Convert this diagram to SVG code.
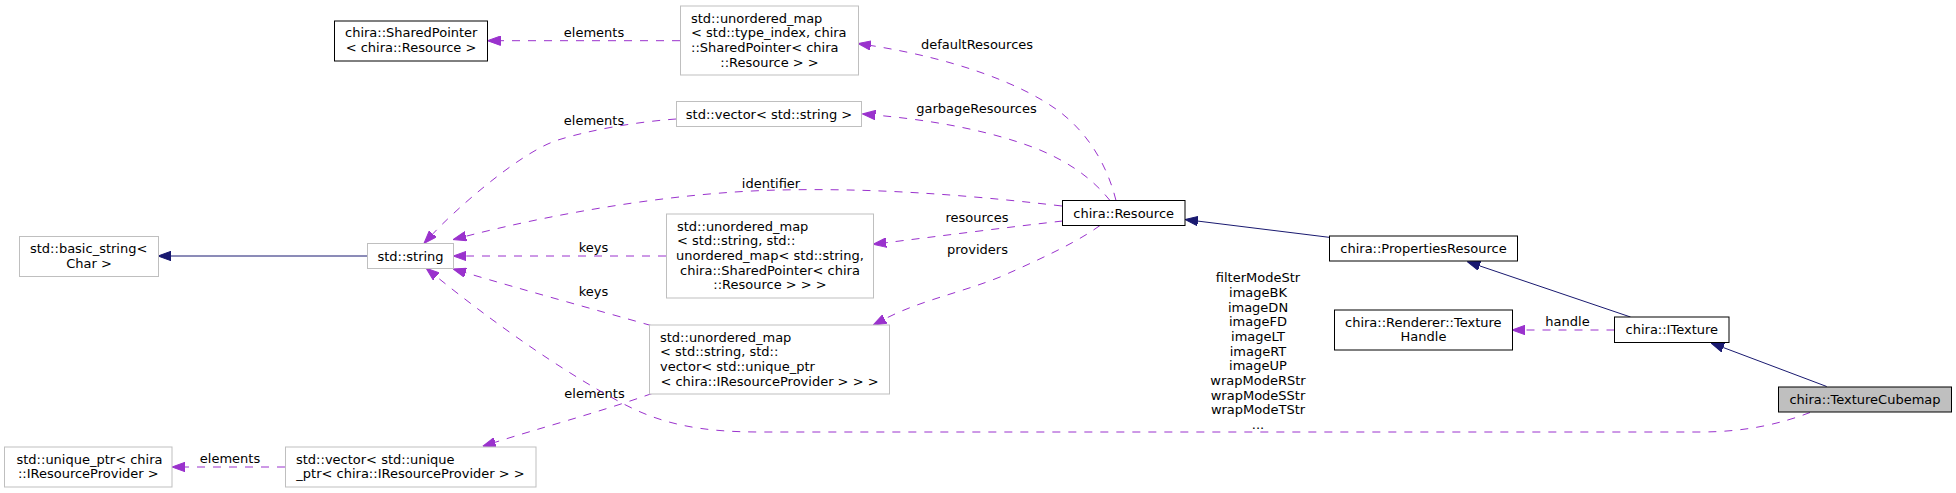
<svg xmlns="http://www.w3.org/2000/svg" width="1956" height="493" viewBox="0 0 1956 493">
<style>
text{font-family:"DejaVu Sans","Liberation Sans",sans-serif;font-size:13px;fill:#000}
.m{text-anchor:middle}
.nb rect{fill:#fff;stroke:#000;stroke-width:1}
.ng rect{fill:#fff;stroke:#bfbfbf;stroke-width:1}
.nc rect{fill:#bfbfbf;stroke:#000;stroke-width:1}
.d{fill:none;stroke:#9a32cd;stroke-width:1;stroke-dasharray:8,8;marker-end:url(#ap)}
.s{fill:none;stroke:#191970;stroke-width:1;marker-end:url(#ab)}
</style>
<defs>
<marker id="ap" markerUnits="userSpaceOnUse" viewBox="0 0 13 10" refX="0" refY="5" markerWidth="13" markerHeight="10" orient="auto"><path d="M0,0.3 L13,5 L0,9.7 z" fill="#9a32cd" stroke="#9a32cd" stroke-width="1"/></marker>
<marker id="ab" markerUnits="userSpaceOnUse" viewBox="0 0 13 10" refX="0" refY="5" markerWidth="13" markerHeight="10" orient="auto"><path d="M0,0.3 L13,5 L0,9.7 z" fill="#191970" stroke="#191970" stroke-width="1"/></marker>
</defs>
<rect x="0" y="0" width="1956" height="493" fill="#fff"/>

<g id="connectors">
<g id="e-shared"><path class="d" d="M680,40.7 L500.5,40.7"/><text class="m" x="594" y="37">elements</text></g>
<g id="e-vecstr"><path class="d" d="M676,119 C 635,122 590,130 558,140 C 520,152 455,210 432.8,233.9"/><text class="m" x="594" y="125">elements</text></g>
<g id="e-garbage"><path class="d" d="M1110,200.5 C 1095,182 1075,165 1040,150 C 990,130 930,120 875.4,115.1"/><text class="m" x="976.5" y="113">garbageResources</text></g>
<g id="e-default"><path class="d" d="M1116,200.5 C 1108,168 1090,135 1060,112 C 1020,82 950,58 870.8,45.5"/><text class="m" x="977" y="48.5">defaultResources</text></g>
<g id="e-identifier"><path class="d" d="M1062,206 C 960,194 870,188 780,190 C 680,192 560,212 465.75,236.3"/><text class="m" x="771" y="188">identifier</text></g>
<g id="e-resources"><path class="d" d="M1062.5,221 C 1010,227 940,236 886.1,242.7"/><text class="m" x="977" y="221.5">resources</text></g>
<g id="e-keys1"><path class="d" d="M666,256 L466.3,256"/><text class="m" x="593.5" y="252">keys</text></g>
<g id="e-keys2"><path class="d" d="M651,325.5 C 600,311 520,289 465.5,272.7"/><text class="m" x="593.5" y="296">keys</text></g>
<g id="e-providers"><path class="d" d="M1100,225.5 C 1080,240 1050,255 1000,277 C 960,293 920.2,300.5 884.7,319"/><text class="m" x="977.5" y="254">providers</text></g>
<g id="e-vecuptr"><path class="d" d="M652,393.5 C 600,412 540,428 495.1,442.3"/><text class="m" x="594.5" y="398">elements</text></g>
<g id="e-uptr"><path class="d" d="M285,467 L185,467"/><text class="m" x="230" y="463">elements</text></g>
<g id="e-handle"><path class="d" d="M1614.5,330 L1525,330"/><text class="m" x="1567.5" y="326">handle</text></g>
<g id="e-members"><path class="d" d="M1810,412.5 C 1780,424 1745,432 1700,432 L 760,432 C 700,432 660,424 620,402 C 560,370 490,320 436.2,276.4"/>
<text class="m" x="1258" y="282.3">filterModeStr</text>
<text class="m" x="1258" y="297">imageBK</text>
<text class="m" x="1258" y="311.6">imageDN</text>
<text class="m" x="1258" y="326.3">imageFD</text>
<text class="m" x="1258" y="341">imageLT</text>
<text class="m" x="1258" y="355.6">imageRT</text>
<text class="m" x="1258" y="370.3">imageUP</text>
<text class="m" x="1258" y="385">wrapModeRStr</text>
<text class="m" x="1258" y="399.7">wrapModeSStr</text>
<text class="m" x="1258" y="414.3">wrapModeTStr</text>
<text class="m" x="1258" y="429">...</text>
</g>
<path class="s" d="M367,256 L171,256"/>
<path class="s" d="M1329,237.3 L1197.9,221.1"/>
<path class="s" d="M1630.5,317 L1479.7,265.9"/>
<path class="s" d="M1826.7,386.5 L1723.2,347.5"/>
</g>

<g id="n-shared" class="nb"><rect x="334.5" y="21" width="153" height="40"/><text x="345" y="37">chira::SharedPointer</text><text class="m" x="411" y="51.7">&lt; chira::Resource &gt;</text></g>
<g id="n-umap-type" class="ng"><rect x="680.5" y="6" width="178" height="69"/><text x="691" y="22.5">std::unordered_map</text><text x="691" y="37.2">&lt; std::type_index, chira</text><text x="691" y="51.8">::SharedPointer&lt; chira</text><text class="m" x="769.5" y="66.5">::Resource &gt; &gt;</text></g>
<g id="n-vecstr" class="ng"><rect x="676.5" y="101.5" width="185" height="25"/><text class="m" x="769" y="118.5">std::vector&lt; std::string &gt;</text></g>
<g id="n-basic" class="ng"><rect x="19.5" y="236.5" width="139" height="40"/><text x="30" y="253.2">std::basic_string&lt;</text><text class="m" x="89" y="267.8">Char &gt;</text></g>
<g id="n-string" class="ng"><rect x="367.5" y="243.5" width="86" height="25"/><text class="m" x="410.5" y="260.5">std::string</text></g>
<g id="n-umap-map" class="ng"><rect x="666.5" y="214" width="207" height="84"/><text x="677" y="230.7">std::unordered_map</text><text x="677" y="245.3">&lt; std::string, std::</text><text x="676" y="260">unordered_map&lt; std::string,</text><text class="m" x="770" y="274.7">chira::SharedPointer&lt; chira</text><text class="m" x="770" y="289.3">::Resource &gt; &gt; &gt;</text></g>
<g id="n-umap-vec" class="ng"><rect x="649.5" y="325" width="240" height="69"/><text x="660" y="341.5">std::unordered_map</text><text x="660" y="356.2">&lt; std::string, std::</text><text x="660" y="370.8">vector&lt; std::unique_ptr</text><text class="m" x="769.5" y="385.5">&lt; chira::IResourceProvider &gt; &gt; &gt;</text></g>
<g id="n-uptr" class="ng"><rect x="4.5" y="447" width="167.5" height="40"/><text x="16.5" y="463.7">std::unique_ptr&lt; chira</text><text class="m" x="88.3" y="478.3">::IResourceProvider &gt;</text></g>
<g id="n-vecuptr" class="ng"><rect x="285.5" y="447" width="250.5" height="40"/><text x="296" y="463.7">std::vector&lt; std::unique</text><text class="m" x="410.5" y="478.3">_ptr&lt; chira::IResourceProvider &gt; &gt;</text></g>
<g id="n-resource" class="nb"><rect x="1062.5" y="200.5" width="122.5" height="25"/><text class="m" x="1123.7" y="217.5">chira::Resource</text></g>
<g id="n-props" class="nb"><rect x="1329.5" y="236" width="188" height="25"/><text class="m" x="1423.5" y="253">chira::PropertiesResource</text></g>
<g id="n-handle" class="nb"><rect x="1334.5" y="310" width="178" height="40"/><text x="1345" y="326.7">chira::Renderer::Texture</text><text class="m" x="1423.5" y="341.3">Handle</text></g>
<g id="n-itexture" class="nb"><rect x="1614.5" y="317" width="114.5" height="25.5"/><text class="m" x="1671.8" y="334.3">chira::ITexture</text></g>
<g id="n-cubemap" class="nc"><rect x="1778.5" y="387" width="173" height="25"/><text class="m" x="1865" y="404">chira::TextureCubemap</text></g>
</svg>
